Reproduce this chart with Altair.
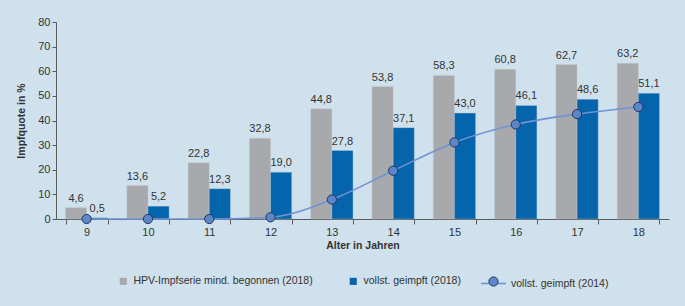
import altair as alt
import pandas as pd

ages = ["9", "10", "11", "12", "13", "14", "15", "16", "17", "18"]
begonnen_2018 = [4.6, 13.6, 22.8, 32.8, 44.8, 53.8, 58.3, 60.8, 62.7, 63.2]
vollst_2018 = [0.5, 5.2, 12.3, 19.0, 27.8, 37.1, 43.0, 46.1, 48.6, 51.1]
vollst_2014 = [0.0, 0.0, 0.0, 0.7, 7.9, 19.6, 31.1, 38.4, 42.6, 45.5]
series_names = ["HPV-Impfserie mind. begonnen (2018)", "vollst. geimpft (2018)", "vollst. geimpft (2014)"]
point_key = "Marker 2014"

GREY = "#a7a9ac"
BLUE = "#0465ac"
LINE = "#6f93d4"
PT_FILL = "#5b86c8"
PT_STROKE = "#26375e"
BG = "#cfe1ec"
TXT = "#333333"
AXIS = "#5a5a5a"
FONT = "Liberation Sans"


def fmt(v):
    return f"{v:.1f}".replace(".", ",")


bar_rows = []
for a, g, b in zip(ages, begonnen_2018, vollst_2018):
    bar_rows.append({"age": a, "series": series_names[0], "value": g, "label": fmt(g)})
    bar_rows.append({"age": a, "series": series_names[1], "value": b, "label": fmt(b)})
bars_df = pd.DataFrame(bar_rows)
line_df = pd.DataFrame({"age": ages, "line_series": series_names[2],
                        "point_series": point_key, "value": vollst_2014})

x_enc = alt.X(
    "age:O",
    sort=ages,
    scale=alt.Scale(paddingInner=0.31, paddingOuter=0.155),
    axis=alt.Axis(
        title="Alter in Jahren",
        labelAngle=0,
        tickBand="extent",
        tickSize=5,
        labelPadding=2,
        titlePadding=3,
    ),
)
y_enc = alt.Y(
    "value:Q",
    scale=alt.Scale(domain=[0, 80], nice=False),
    axis=alt.Axis(
        title="Impfquote in %",
        values=list(range(0, 81, 10)),
        tickSize=4,
        grid=False,
        labelPadding=2,
        titlePadding=11,
        labelOverlap=False,
    ),
)
x_off = alt.XOffset("series:N", sort=series_names[:2],
                    scale=alt.Scale(paddingInner=0, paddingOuter=0))

bars = alt.Chart(bars_df).mark_bar(stroke="#c8ccd0", strokeWidth=0.6, strokeOpacity=0.6).encode(
    x=x_enc,
    xOffset=x_off,
    y=y_enc,
    fill=alt.Fill(
        "series:N",
        sort=series_names[:2],
        scale=alt.Scale(domain=series_names[:2], range=[GREY, BLUE]),
        legend=alt.Legend(
            orient="none", legendX=62, legendY=254, direction="horizontal",
            title=None, symbolType="square", symbolSize=50, symbolStrokeWidth=0,
            labelOffset=5, columnPadding=35, labelLimit=300,
        ),
    ),
)

labels = alt.Chart(bars_df).mark_text(baseline="bottom", dy=-4, fontSize=11, color=TXT, font=FONT).encode(
    x=x_enc,
    xOffset=x_off,
    y=y_enc,
    text="label:N",
)

line = alt.Chart(line_df).mark_line(interpolate="monotone", strokeWidth=1.6).encode(
    x=x_enc,
    y=y_enc,
    stroke=alt.Stroke(
        "line_series:N",
        scale=alt.Scale(domain=[series_names[2]], range=[LINE]),
        legend=alt.Legend(
            orient="none", legendX=424, legendY=248, title=None,
            symbolType="stroke", symbolSize=625, symbolStrokeWidth=1.6,
            labelOffset=4, labelLimit=300,
        ),
    ),
)

points = alt.Chart(line_df).mark_point(filled=True, size=85, stroke=PT_STROKE, strokeWidth=1, opacity=1).encode(
    x=x_enc,
    y=y_enc,
    color=alt.Color(
        "point_series:N",
        scale=alt.Scale(domain=[point_key], range=[PT_FILL]),
        legend=alt.Legend(
            orient="none", legendX=432, legendY=254, title=None,
            symbolType="circle", symbolSize=85, symbolStrokeColor=PT_STROKE,
            symbolStrokeWidth=1, symbolFillColor=PT_FILL, labelExpr="''",
        ),
    ),
)

chart = alt.layer(bars, labels, line, points).properties(
    width=613,
    height=197,
    background=BG,
    padding={"left": 56, "top": 22, "right": 16, "bottom": 87},
    autosize=alt.AutoSizeParams(type="none"),
).configure_view(stroke=None).configure_axis(
    domainColor=AXIS,
    tickColor=AXIS,
    labelColor=TXT,
    titleColor=TXT,
    labelFont=FONT,
    titleFont=FONT,
    labelFontSize=11,
    titleFontSize=10.5,
    titleFontWeight="bold",
).configure_legend(
    labelFont=FONT,
    labelFontSize=10.5,
    labelColor=TXT,
)

chart.save("out.html", embed_options={"renderer": "svg", "actions": False})
